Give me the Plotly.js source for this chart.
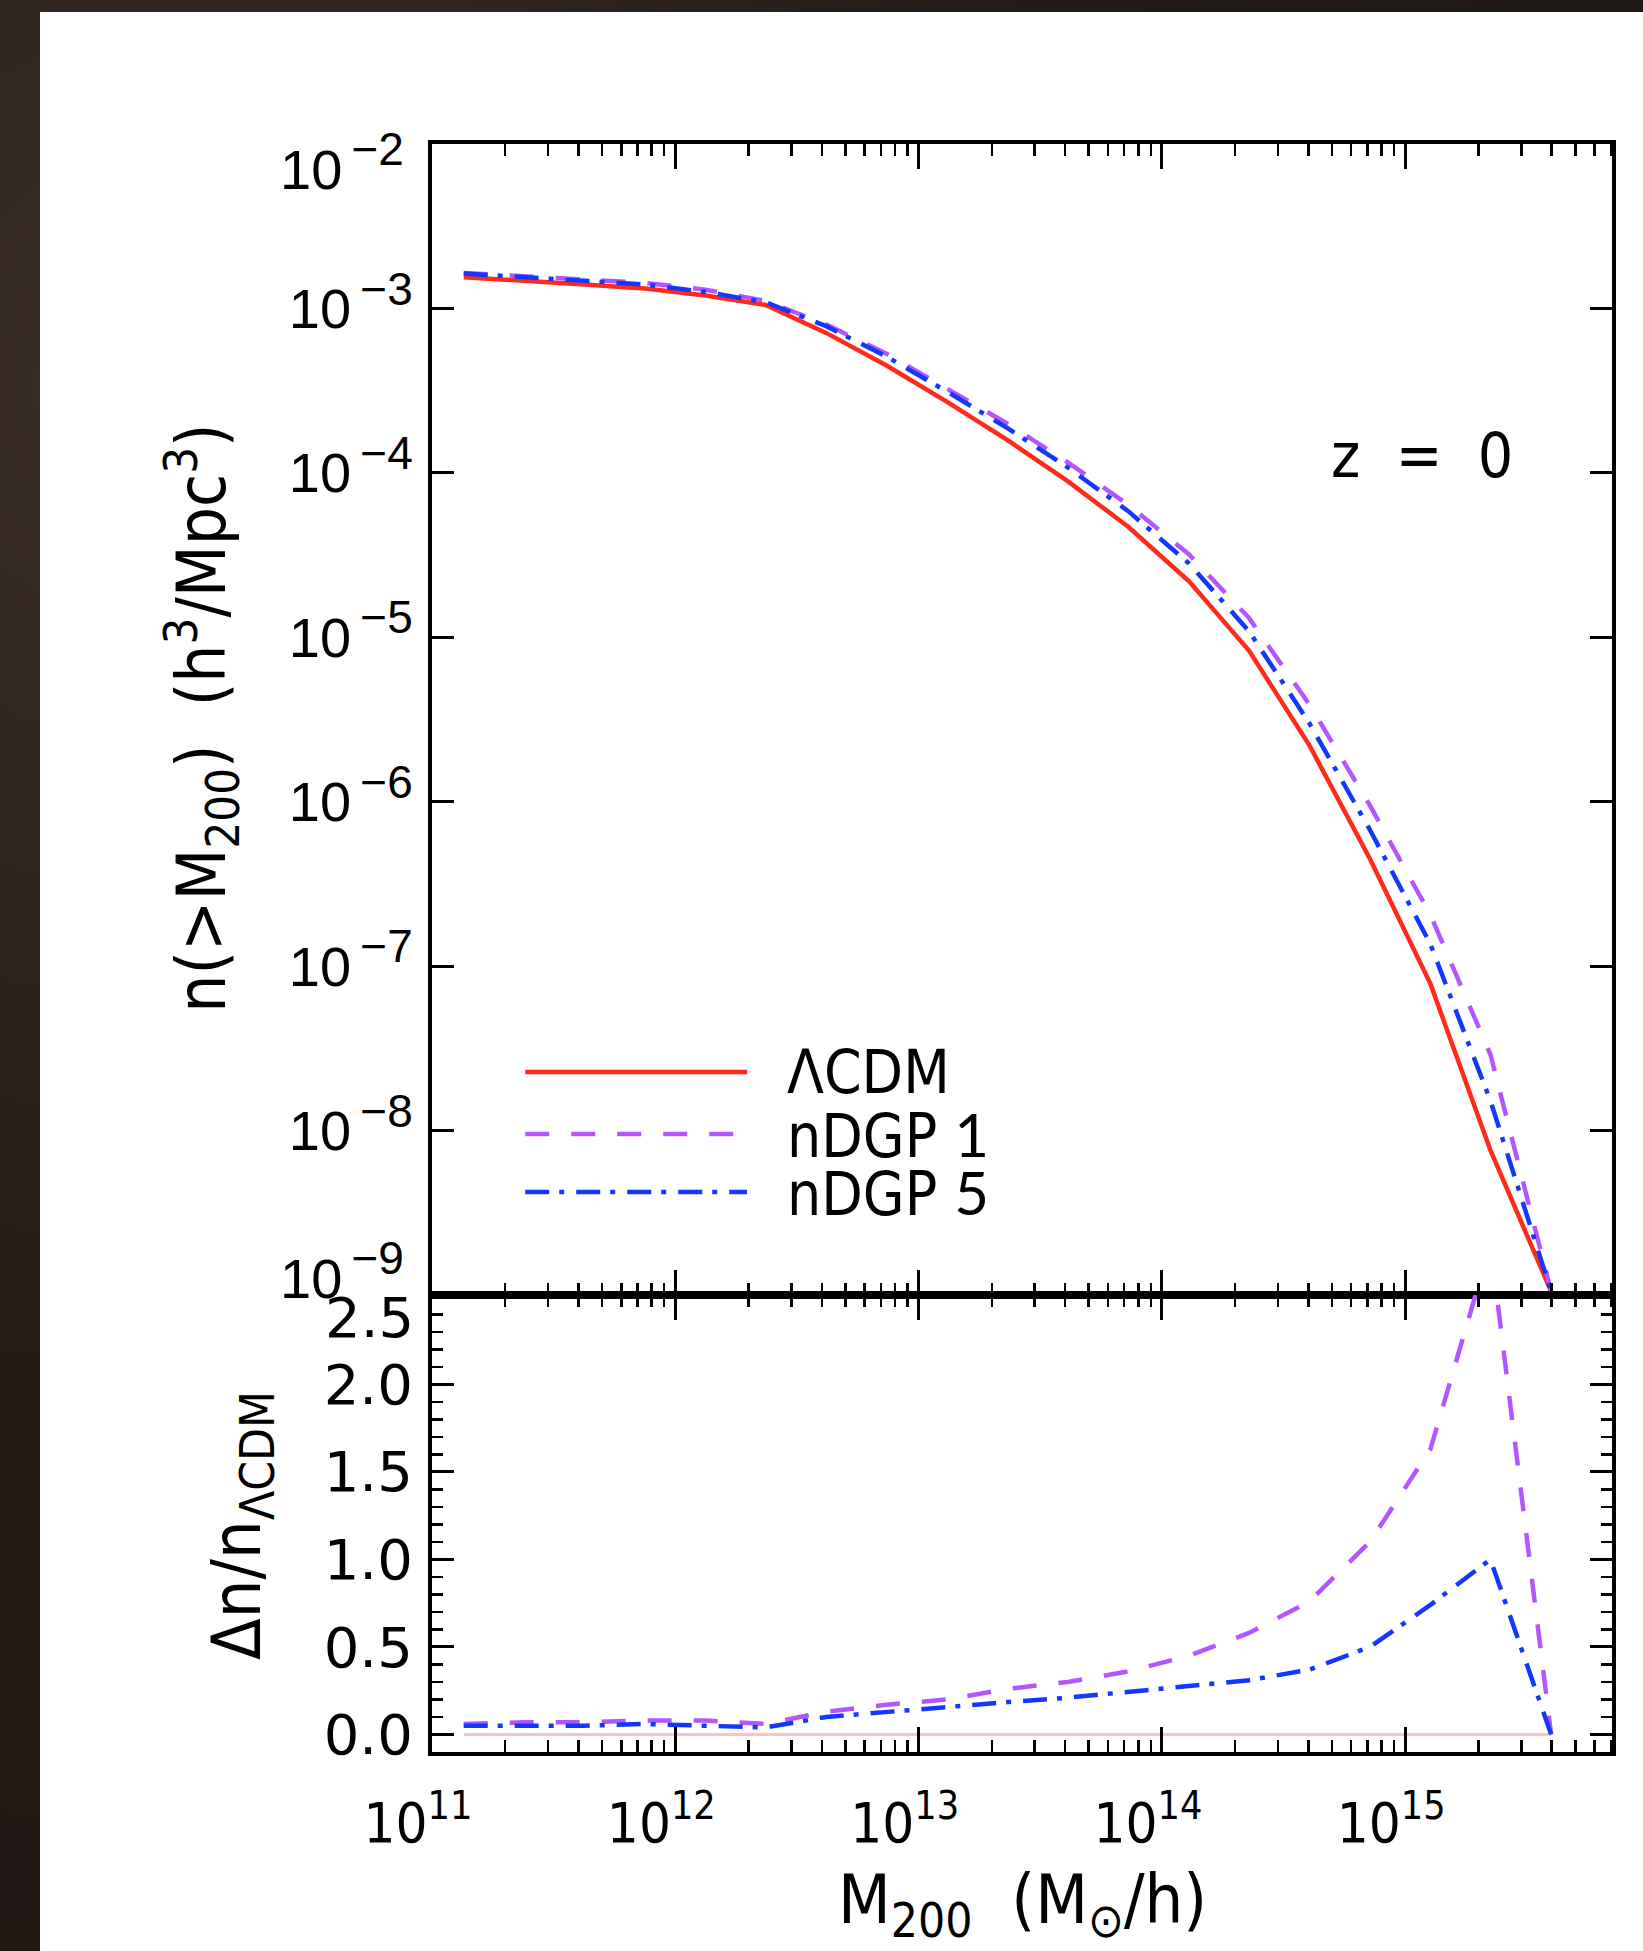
<!DOCTYPE html>
<html>
<head>
<meta charset="utf-8">
<script src="https://cdn.plot.ly/plotly-3.0.1.min.js"></script>
<style>
html,body{margin:0;padding:0;width:1643px;height:1951px;overflow:hidden;}
body{background:#2a211c;background-image:radial-gradient(ellipse at 10% 20%,#3b2f27 0%,#241b16 45%,#1c1511 100%);}
#panel{position:absolute;left:40px;top:12px;width:1603px;height:1939px;background:#fff;}
</style>
</head>
<body>
<div id="panel"></div>
<script>
// Halo mass bins M200 (Msun/h)
const mass = [1.35e11, 2.39e11, 4.23e11, 7.50e11, 1.33e12, 2.35e12, 4.17e12, 7.38e12, 1.31e13, 2.32e13,
              4.10e13, 7.27e13, 1.29e14, 2.28e14, 4.04e14, 7.16e14, 1.27e15, 2.24e15, 3.98e15];
// cumulative mass function n(>M200) (h^3/Mpc^3)
const nLCDM = [1.55e-3, 1.48e-3, 1.40e-3, 1.32e-3, 1.20e-3, 1.05e-3, 7.1e-4, 4.5e-4, 2.7e-4, 1.58e-4,
               8.9e-5, 4.7e-5, 2.2e-5, 8.3e-6, 2.2e-6, 4.5e-7, 7.8e-8, 7.6e-9, 1.05e-9];
const nDGP1 = [1.64e-3, 1.58e-3, 1.50e-3, 1.43e-3, 1.30e-3, 1.11e-3, 8.0e-4, 5.3e-4, 3.24e-4, 1.99e-4,
               1.16e-4, 6.4e-5, 3.2e-5, 1.31e-5, 3.9e-6, 9.5e-7, 2.05e-7, 2.9e-8, 1.05e-9];
const nDGP5 = [1.63e-3, 1.55e-3, 1.47e-3, 1.40e-3, 1.26e-3, 1.09e-3, 7.8e-4, 5.1e-4, 3.12e-4, 1.87e-4,
               1.08e-4, 5.85e-5, 2.82e-5, 1.09e-5, 3.0e-6, 6.75e-7, 1.36e-7, 1.52e-8, 1.05e-9];
// relative difference Δn / n_ΛCDM
const dLCDM = [0, 0, 0, 0, 0, 0, 0, 0, 0, 0, 0, 0, 0, 0, 0, 0, 0, 0, 0];
const dDGP1 = [0.06, 0.07, 0.07, 0.08, 0.08, 0.06, 0.13, 0.17, 0.20, 0.26,
               0.30, 0.36, 0.45, 0.58, 0.76, 1.10, 1.63, 2.80, 0.0];
const dDGP5 = [0.05, 0.05, 0.05, 0.06, 0.05, 0.04, 0.10, 0.13, 0.155, 0.185,
               0.21, 0.245, 0.28, 0.31, 0.37, 0.50, 0.74, 1.00, 0.0];

const seriesNames = ['ΛCDM', 'nDGP 1', 'nDGP 5'];
const xTickVals = [1e11, 1e12, 1e13, 1e14, 1e15];
const xTickText = ['10<sup>11</sup>', '10<sup>12</sup>', '10<sup>13</sup>', '10<sup>14</sup>', '10<sup>15</sup>'];
const yTickVals = [1e-8, 1e-7, 1e-6, 1e-5, 1e-4, 1e-3];
const yTickExp = ['−8', '−7', '−6', '−5', '−4', '−3'];
const yEndExp = ['−2', '−9'];
const y2TickVals = [0, 0.5, 1.0, 1.5, 2.0];
const y2TickText = ['0.0', '0.5', '1.0', '1.5', '2.0'];
const y2EndText = '2.5';

const RED = '#ff2a1c', PURPLE = '#b456ff', BLUE = '#1437ff', PINK = 'rgba(255,120,120,0.45)';
const DASH = '24px,22px', DASHDOT = '24px,10px,5px,12px';
const COND = "'Liberation Sans Narrow','Arial Narrow','DejaVu Sans Condensed',sans-serif";
const SANS = "'Liberation Sans',Arial,Helvetica,sans-serif";
const SANS2 = "'DejaVu Sans',Verdana,sans-serif";
const pow10 = e => '10<sup><span style="font-size:46px;">\u2009' + e + '</span></sup>';

const traces = [
  {x: mass, y: nLCDM, xaxis: 'x', yaxis: 'y', mode: 'lines', name: seriesNames[0], line: {color: RED, width: 4.5}},
  {x: mass, y: nDGP1, xaxis: 'x', yaxis: 'y', mode: 'lines', name: seriesNames[1], line: {color: PURPLE, width: 4.5, dash: DASH}},
  {x: mass, y: nDGP5, xaxis: 'x', yaxis: 'y', mode: 'lines', name: seriesNames[2], line: {color: BLUE, width: 4.5, dash: DASHDOT}},
  {x: mass, y: dLCDM, xaxis: 'x2', yaxis: 'y2', mode: 'lines', name: seriesNames[0], line: {color: PINK, width: 3}},
  {x: mass, y: dDGP1, xaxis: 'x2', yaxis: 'y2', mode: 'lines', name: seriesNames[1], line: {color: PURPLE, width: 4.5, dash: DASH}},
  {x: mass, y: dDGP5, xaxis: 'x2', yaxis: 'y2', mode: 'lines', name: seriesNames[2], line: {color: BLUE, width: 4.5, dash: DASHDOT}}
];

const frame = {showline: true, linewidth: 4, linecolor: '#000', mirror: 'ticks', showgrid: false, zeroline: false,
               ticks: 'inside', tickcolor: '#000'};
const logMinor = {ticks: 'inside', ticklen: 12, tickwidth: 2.5, tickcolor: '#000', dtick: 'D1', showgrid: false};
const SPLIT = 0.2842;

const layout = {
  width: 1603, height: 1939,
  margin: {l: 392, r: 31, t: 132, b: 199},
  paper_bgcolor: '#fff', plot_bgcolor: '#fff',
  showlegend: false,
  xaxis: Object.assign({}, frame, {type: 'log', range: [11, 15.85], domain: [0, 1], anchor: 'y',
    tickmode: 'array', tickvals: xTickVals, showticklabels: false, ticklen: 25, tickwidth: 3, minor: logMinor}),
  yaxis: Object.assign({}, frame, {type: 'log', range: [-9, -2], domain: [SPLIT, 1], anchor: 'x',
    tickmode: 'array', tickvals: yTickVals, ticktext: yTickExp.map(pow10), ticklen: 22, tickwidth: 3,
    tickfont: {family: SANS, size: 56, color: '#000'}, ticklabelstandoff: 4}),
  xaxis2: Object.assign({}, frame, {type: 'log', range: [11, 15.85], domain: [0, 1], anchor: 'y2', matches: 'x',
    tickmode: 'array', tickvals: xTickVals, ticktext: xTickText, ticklen: 25, tickwidth: 3, minor: logMinor,
    tickfont: {family: COND, size: 56, color: '#000'}, ticklabelstandoff: 19, ticklabelshift: -14}),
  yaxis2: Object.assign({}, frame, {range: [-0.1, 2.51], domain: [0, SPLIT], anchor: 'x2',
    tickmode: 'array', tickvals: y2TickVals, ticktext: y2TickText, ticklen: 22, tickwidth: 3,
    minor: {ticks: 'inside', ticklen: 11, tickwidth: 2.5, tickcolor: '#000', dtick: 0.1, showgrid: false},
    tickfont: {family: SANS2, size: 56, color: '#000'}, ticklabelstandoff: 4}),
  shapes: [
    {type: 'line', xref: 'paper', yref: 'paper', x0: 0.079, x1: 0.267, y0: 0.4229, y1: 0.4229, line: {color: RED, width: 4.5}},
    {type: 'line', xref: 'paper', yref: 'paper', x0: 0.079, x1: 0.267, y0: 0.3843, y1: 0.3843, line: {color: PURPLE, width: 4.5, dash: DASH}},
    {type: 'line', xref: 'paper', yref: 'paper', x0: 0.079, x1: 0.267, y0: 0.3483, y1: 0.3483, line: {color: BLUE, width: 4.5, dash: DASHDOT}}
  ],
  annotations: [
    // legend labels
    {xref: 'paper', yref: 'paper', x: 0.299, y: 0.4229, xanchor: 'left', yanchor: 'middle', showarrow: false, height: 54,
     text: seriesNames[0], font: {family: COND, size: 60, color: '#000'}},
    {xref: 'paper', yref: 'paper', x: 0.299, y: 0.3843, xanchor: 'left', yanchor: 'middle', showarrow: false, height: 54,
     text: 'nDGP <span style="font-family:Lato;">1</span>', font: {family: COND, size: 60, color: '#000'}},
    {xref: 'paper', yref: 'paper', x: 0.299, y: 0.3483, xanchor: 'left', yanchor: 'middle', showarrow: false, height: 54,
     text: 'nDGP <span style="font-family:Lato;">5</span>', font: {family: COND, size: 60, color: '#000'}},
    // redshift label
    {xref: 'paper', yref: 'paper', x: 0.839, y: 0.806, xanchor: 'center', yanchor: 'middle', showarrow: false,
     text: 'z\u00a0\u00a0=\u00a0\u00a00', font: {family: COND, size: 62, color: '#000'}},
    // axis titles
    {xref: 'paper', yref: 'paper', x: -0.196, y: 0.643, xanchor: 'center', yanchor: 'middle', showarrow: false, textangle: -90,
     text: 'n(>M<sub>200</sub>)\u00a0\u00a0(h<sup>3</sup>/Mpc<sup>3</sup>)', font: {family: COND, size: 67, color: '#000'}},
    {xref: 'paper', yref: 'paper', x: -0.162, y: 0.141, xanchor: 'center', yanchor: 'middle', showarrow: false, textangle: -90,
     text: 'Δn/n<sub>ΛCDM</sub>', font: {family: COND, size: 68, color: '#000'}},
    {xref: 'paper', yref: 'paper', x: 0.5, y: -0.0945, xanchor: 'center', yanchor: 'middle', showarrow: false,
     text: 'M<sub>200</sub>\u00a0\u00a0(M<sub>⊙</sub>/h)', font: {family: COND, size: 68, color: '#000'}},
    // end tick labels, shifted inside the axis span as in the original
    {xref: 'paper', yref: 'y', x: 0, y: -2, xanchor: 'right', yanchor: 'middle', xshift: -26, yshift: -18, showarrow: false,
     text: pow10(yEndExp[0]), font: {family: SANS, size: 56, color: '#000'}},
    {xref: 'paper', yref: 'y', x: 0, y: -9, xanchor: 'right', yanchor: 'middle', xshift: -26, yshift: 24, showarrow: false,
     text: pow10(yEndExp[1]), font: {family: SANS, size: 56, color: '#000'}},
    {xref: 'paper', yref: 'y2', x: 0, y: 2.5, xanchor: 'right', yanchor: 'middle', xshift: -16, yshift: -21, showarrow: false,
     text: y2EndText, font: {family: SANS2, size: 56, color: '#000'}}
  ]
};

Plotly.newPlot('panel', traces, layout, {displayModeBar: false, staticPlot: true});
</script>
</body>
</html>
